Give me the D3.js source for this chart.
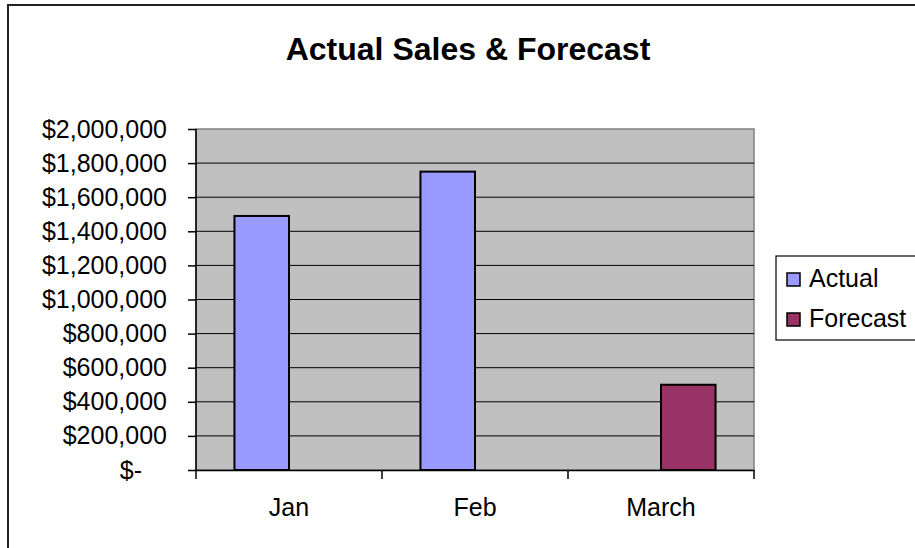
<!DOCTYPE html>
<html>
<head>
<meta charset="utf-8">
<script src="https://cdn.jsdelivr.net/npm/d3@7"></script>
<style>
  html, body { margin: 0; padding: 0; background: #fff; }
  svg { display: block; font-family: "Liberation Sans", Arial, sans-serif; }
</style>
</head>
<body>
<svg id="chart" width="915" height="548"></svg>
<script>
// ---- data ----
const categories = ["Jan", "Feb", "March"];
const seriesNames = ["Actual", "Forecast"];
const actualValues = [1490000, 1750000, null];
const forecastValues = [null, null, 500000];
const yTicks = [0, 200000, 400000, 600000, 800000, 1000000, 1200000, 1400000, 1600000, 1800000, 2000000];
const titleText = "Actual Sales & Forecast";

const seriesColors = { Actual: "#9999FF", Forecast: "#993366" };
const seriesData = { Actual: actualValues, Forecast: forecastValues };

const svg = d3.select("#chart");
const plot = { left: 196, right: 754, top: 129, bottom: 470 };
const labelSize = 25;

// outer chart border
svg.append("rect")
  .attr("x", 8).attr("y", 5).attr("width", 930).attr("height", 560)
  .attr("fill", "#fff").attr("stroke", "#222").attr("stroke-width", 2);

// title
svg.append("text")
  .attr("x", 468).attr("y", 60)
  .attr("text-anchor", "middle")
  .attr("font-size", 32).attr("font-weight", "bold")
  .text(titleText);

const x0 = d3.scaleBand().domain(categories).range([plot.left, plot.right]).padding(0);
const band = x0.bandwidth();
const barW = band / 3.41;
const gap = band - 2 * barW;
const x1 = d3.scaleBand().domain(seriesNames).range([gap / 2, band - gap / 2]).padding(0);
const y = d3.scaleLinear().domain([0, 2000000]).range([plot.bottom, plot.top]);

// plot background
svg.append("rect")
  .attr("x", plot.left).attr("y", plot.top)
  .attr("width", plot.right - plot.left).attr("height", plot.bottom - plot.top)
  .attr("fill", "#C0C0C0").attr("stroke", "#808080").attr("stroke-width", 1.5);

// gridlines
svg.append("g").selectAll("line")
  .data(yTicks.filter(d => d > 0 && d < 2000000))
  .join("line")
  .attr("x1", plot.left).attr("x2", plot.right)
  .attr("y1", d => y(d)).attr("y2", d => y(d))
  .attr("stroke", "#000").attr("stroke-width", 1);

// bars
const rows = categories.map((c, i) => ({ cat: c, vals: seriesNames.map(s => ({ s, v: seriesData[s][i] })) }));
svg.append("g").selectAll("g")
  .data(rows).join("g")
  .attr("transform", d => `translate(${x0(d.cat)},0)`)
  .selectAll("rect")
  .data(d => d.vals.filter(v => v.v != null))
  .join("rect")
  .attr("x", d => x1(d.s))
  .attr("width", x1.bandwidth())
  .attr("y", d => y(d.v))
  .attr("height", d => y(0) - y(d.v))
  .attr("fill", d => seriesColors[d.s])
  .attr("stroke", "#000").attr("stroke-width", 2);

// y axis
const fmt = d3.format(",");
const yAxis = d3.axisLeft(y).tickValues(yTicks).tickSize(8).tickPadding(21)
  .tickFormat(d => d === 0 ? "$-" : "$" + fmt(d));
const yg = svg.append("g").attr("transform", `translate(${plot.left},0)`).call(yAxis);
yg.select(".domain").attr("stroke", "#000").attr("stroke-width", 1.5).attr("d", `M0,${plot.top}V${plot.bottom}`);
yg.selectAll(".tick line").attr("stroke", "#000").attr("stroke-width", 1.5);
yg.selectAll(".tick text").attr("font-size", labelSize).attr("fill", "#000")
  .attr("font-family", "Liberation Sans, Arial, sans-serif")
  .attr("dx", d => d === 0 ? "-1.0em" : 0);

// x axis
const xg = svg.append("g").attr("transform", `translate(0,${plot.bottom})`)
  .call(d3.axisBottom(x0).tickSize(0).tickPadding(28));
xg.select(".domain").attr("stroke", "#000").attr("stroke-width", 1.5);
xg.selectAll(".tick text").attr("font-size", labelSize).attr("fill", "#000")
  .attr("font-family", "Liberation Sans, Arial, sans-serif");
// boundary tick marks
const bounds = categories.map(c => x0(c)).concat([plot.right]);
xg.append("g").selectAll("line").data(bounds).join("line")
  .attr("x1", d => d).attr("x2", d => d).attr("y1", 0).attr("y2", 9)
  .attr("stroke", "#000").attr("stroke-width", 1.5);

// legend
const lg = svg.append("g");
lg.append("rect").attr("x", 776).attr("y", 256).attr("width", 200).attr("height", 84)
  .attr("fill", "#fff").attr("stroke", "#000").attr("stroke-width", 1.2);
const items = lg.selectAll("g.item").data(seriesNames).join("g")
  .attr("transform", (d, i) => `translate(0,${i * 40})`);
items.append("rect").attr("x", 787).attr("y", 273).attr("width", 13).attr("height", 13)
  .attr("fill", d => seriesColors[d]).attr("stroke", "#000").attr("stroke-width", 1.5);
items.append("text").attr("x", 809).attr("y", 287).attr("font-size", labelSize).text(d => d);
</script>
</body>
</html>
